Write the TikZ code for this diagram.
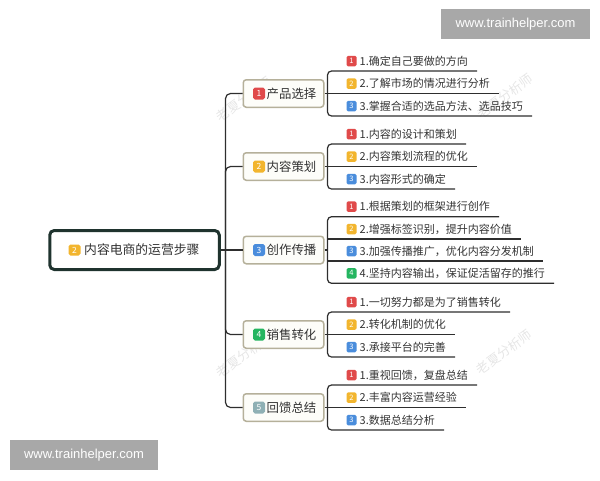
\documentclass[tikz,border=0pt]{standalone}
\usepackage{fontspec}
\setmainfont{Noto Sans CJK SC}
\newfontfamily\urlfont{Liberation Sans}
\definecolor{lc}{HTML}{2E2E2E}
\definecolor{tc}{HTML}{333333}
\definecolor{mbc}{HTML}{1F332E}
\definecolor{bbc}{HTML}{B5B09A}
\definecolor{bbf}{HTML}{FDFDF9}
\definecolor{cr}{HTML}{E04A4A}
\definecolor{cy}{HTML}{F2B52E}
\definecolor{cb}{HTML}{4A8DDC}
\definecolor{cg}{HTML}{25B560}
\definecolor{cs}{HTML}{8FB0B4}
\definecolor{wmc}{HTML}{E6E6E6}
\definecolor{ubg}{HTML}{A8A8A8}
\newcommand\leafitem[5]{%
  \node[bdg, fill=#3] (#1b) at (351.5,#2-10) {#4};
  \node[leaftxt] (#1) at (359.5,#2-10) {#5};
  \coordinate (#1u) at (327.5,#2);
  \coordinate (#1e) at ([xshift=9pt]#1.east);
}
\newcommand\branchitem[5]{%
  \node[brbox] (#1) at (283.5,#2) {};
  \node[bdgbig, fill=#3] (#1b) at (259,#2) {#4};
  \node[brtxt] (#1t) at (266.5,#2) {#5};
}
\begin{document}
\begin{tikzpicture}[x=1pt,y=-1pt,
  ln/.style={draw=lc, line width=1.2pt},
  bdg/.style={rounded corners=1.5pt, text=white, font=\fontsize{7.5}{8}\selectfont, minimum width=10pt, minimum height=10.5pt, inner sep=0pt},
  bdgbig/.style={rounded corners=1.8pt, text=white, font=\fontsize{8.5}{9}\selectfont, minimum width=12pt, minimum height=12pt, inner sep=0pt},
  leaftxt/.style={font=\fontsize{11}{12}\selectfont, text=tc, inner sep=0pt, anchor=west},
  brbox/.style={draw=bbc, fill=bbf, line width=1.5pt, rounded corners=3pt, minimum width=80.5pt, minimum height=27.5pt, inner sep=0pt},
  brtxt/.style={font=\fontsize{12.4}{13}\selectfont, text=tc, inner sep=0pt, anchor=west},
  mainbox/.style={draw=mbc, fill=white, line width=3pt, rounded corners=4.5pt, minimum width=169.5pt, minimum height=39pt, inner sep=0pt},
  wm/.style={text=wmc, font=\fontsize{13}{13}\selectfont, rotate=36},
  urlbox/.style={fill=ubg, text=white, font=\urlfont\fontsize{13}{13}\selectfont, inner sep=0pt}
]
\useasboundingbox (0,0) rectangle (600,480);
% watermarks
\node[wm] (w1) at (244,99) {老夏分析师};
\node[wm] (w2) at (505,96) {老夏分析师};
\node[wm] (w3) at (244,355) {老夏分析师};
\node[wm] (w4) at (504,352) {老夏分析师};
% main topic
\node[mainbox] (main) at (134.5,250) {};
\node[bdgbig, fill=cy, minimum height=11pt] (mainb) at (74.5,250) {2};
\node[font=\fontsize{12.8}{13}\selectfont, text=tc, inner sep=0pt, anchor=west] (maint) at (84,250) {内容电商的运营步骤};
% branches
\coordinate (tr) at (225.5,250);
\branchitem{b1}{93.5}{cr}{1}{产品选择}
\branchitem{b2}{166.5}{cy}{2}{内容策划}
\branchitem{b3}{250}{cb}{3}{创作传播}
\branchitem{b4}{334.5}{cg}{4}{销售转化}
\branchitem{b5}{407.5}{cs}{5}{回馈总结}
\draw[ln] (main.east) -- (b3.west);
\foreach \b in {b1,b2,b4,b5}{
  \draw[ln, rounded corners=5pt] (tr) |- (\b.west);
}
% leaves of branch 1
\leafitem{l11}{71}{cr}{1}{1.确定自己要做的方向}
\leafitem{l12}{93.5}{cy}{2}{2.了解市场的情况进行分析}
\leafitem{l13}{116}{cb}{3}{3.掌握合适的选品方法、选品技巧}
% branch 2
\leafitem{l21}{144}{cr}{1}{1.内容的设计和策划}
\leafitem{l22}{166.5}{cy}{2}{2.内容策划流程的优化}
\leafitem{l23}{189}{cb}{3}{3.内容形式的确定}
% branch 3
\leafitem{l31}{216.7}{cr}{1}{1.根据策划的框架进行创作}
\leafitem{l32}{239}{cy}{2}{2.增强标签识别，提升内容价值}
\leafitem{l33}{261}{cb}{3}{3.加强传播推广，优化内容分发机制}
\leafitem{l34}{283.3}{cg}{4}{4.坚持内容输出，保证促活留存的推行}
% branch 4
\leafitem{l41}{312}{cr}{1}{1.一切努力都是为了销售转化}
\leafitem{l42}{334.5}{cy}{2}{2.转化机制的优化}
\leafitem{l43}{357}{cb}{3}{3.承接平台的完善}
% branch 5
\leafitem{l51}{385}{cr}{1}{1.重视回馈，复盘总结}
\leafitem{l52}{407.5}{cy}{2}{2.丰富内容运营经验}
\leafitem{l53}{430}{cb}{3}{3.数据总结分析}
% brackets
\draw[ln, rounded corners=4pt] (l11e |- l11u) -- (l11u) -- (l13u) -- (l13e |- l13u);
\draw[ln] (l12u) -- (l12e |- l12u);
\draw[ln] (b1.east) -- (b1.east -| l12u);
\draw[ln, rounded corners=4pt] (l21e |- l21u) -- (l21u) -- (l23u) -- (l23e |- l23u);
\draw[ln] (l22u) -- (l22e |- l22u);
\draw[ln] (b2.east) -- (b2.east -| l22u);
\draw[ln, rounded corners=4pt] (l31e |- l31u) -- (l31u) -- (l34u) -- (l34e |- l34u);
\draw[ln] (l32u) -- (l32e |- l32u);
\draw[ln] (l33u) -- (l33e |- l33u);
\draw[ln] (b3.east) -- (b3.east -| l31u);
\draw[ln, rounded corners=4pt] (l41e |- l41u) -- (l41u) -- (l43u) -- (l43e |- l43u);
\draw[ln] (l42u) -- (l42e |- l42u);
\draw[ln] (b4.east) -- (b4.east -| l42u);
\draw[ln, rounded corners=4pt] (l51e |- l51u) -- (l51u) -- (l53u) -- (l53e |- l53u);
\draw[ln] (l52u) -- (l52e |- l52u);
\draw[ln] (b5.east) -- (b5.east -| l52u);
% url boxes
\node[urlbox, minimum width=149pt, minimum height=30pt] (u1) at (515.5,24) {www.trainhelper.com};
\node[urlbox, minimum width=148pt, minimum height=29.5pt] (u2) at (84,455) {www.trainhelper.com};
\end{tikzpicture}
\end{document}
